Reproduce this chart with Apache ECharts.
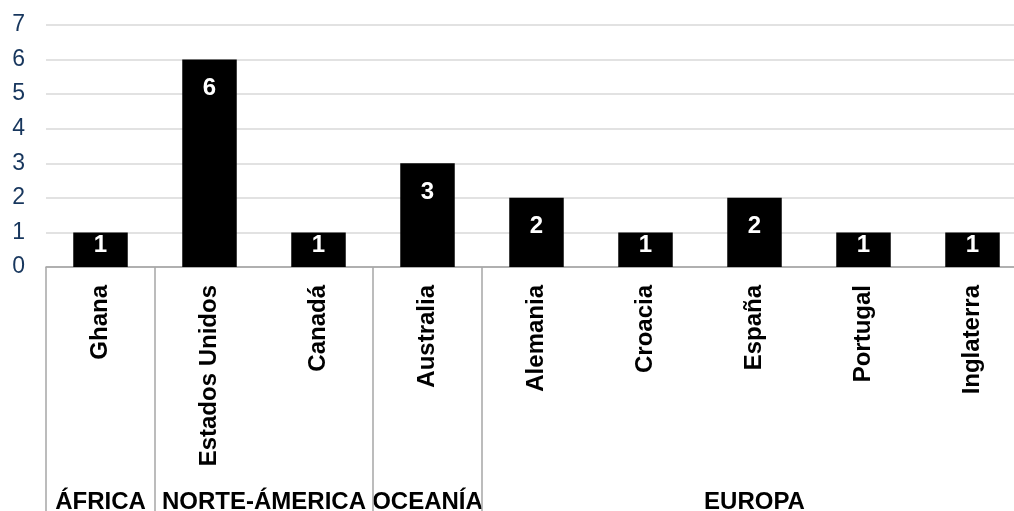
<!DOCTYPE html>
<html>
<head>
<meta charset="utf-8">
<script src="https://cdn.jsdelivr.net/npm/echarts@6/dist/echarts.min.js"></script>
<style>
html,body{margin:0;padding:0;background:#fff;overflow:hidden;width:1014px;height:511px;}
#c{width:1030px;height:511px;}
</style>
</head>
<body>
<div id="c"></div>
<script>
const countries = ['Ghana','Estados Unidos','Canadá','Australia','Alemania','Croacia','España','Portugal','Inglaterra'];
const values = [1,6,1,3,2,1,2,1,1];
const groupNames = ['ÁFRICA','NORTE-ÁMERICA','OCEANÍA','EUROPA'];
const groupSizes = [1,2,1,5];
const yTicks = [0,1,2,3,4,5,6,7];

const FONT = '"Liberation Sans", Arial, sans-serif';

const boundaries = [];
let acc = 0;
groupSizes.forEach(s => { boundaries.push(acc); acc += s; });
boundaries.push(acc);

const chart = echarts.init(document.getElementById('c'), null, {renderer:'canvas'});
const option = {
  animation: false,
  backgroundColor: '#fff',
  grid: {left: 46, top: 25, bottom: 244, width: 981, containLabel: false},
  xAxis: {
    type: 'category',
    data: countries,
    boundaryGap: true,
    axisLine: {show: true, lineStyle: {color: '#a0a0a0', width: 1.5}},
    axisTick: {
      show: true,
      interval: function (idx) { return boundaries.indexOf(idx) >= 0; },
      length: 250,
      lineStyle: {color: '#a6a6a6', width: 1.5}
    },
    axisLabel: {
      rotate: 90,
      interval: 0,
      margin: 18,
      color: '#000',
      fontWeight: 'bold',
      fontSize: 24,
      fontFamily: FONT
    }
  },
  yAxis: {
    type: 'value',
    min: yTicks[0],
    max: yTicks[yTicks.length - 1],
    interval: 1,
    axisLine: {show: false},
    axisTick: {show: false},
    splitLine: {show: true, lineStyle: {color: '#d9d9d9', width: 1.5}},
    axisLabel: {
      margin: 21,
      color: '#17365d',
      fontSize: 23,
      fontFamily: FONT
    }
  },
  series: [{
    type: 'bar',
    barWidth: '50%',
    itemStyle: {color: '#000'},
    data: values.map(v => ({
      value: v,
      label: {distance: v > 1 ? 17 : 1}
    })),
    label: {
      show: true,
      position: 'insideTop',
      color: '#fff',
      fontWeight: 'bold',
      fontSize: 24,
      lineHeight: 24,
      fontFamily: FONT
    }
  }]
};
chart.setOption(option);

const graphics = [];
let start = 0;
groupNames.forEach((name, gi) => {
  const end = start + groupSizes[gi] - 1;
  const x0 = chart.convertToPixel({xAxisIndex: 0}, start);
  const x1 = chart.convertToPixel({xAxisIndex: 0}, end);
  graphics.push({
    type: 'text',
    x: (x0 + x1) / 2,
    y: 502,
    style: {
      text: name,
      fill: '#000',
      font: 'bold 24px ' + FONT,
      align: 'center',
      verticalAlign: 'middle'
    }
  });
  start = end + 1;
});
chart.setOption({graphic: graphics});
</script>
</body>
</html>
